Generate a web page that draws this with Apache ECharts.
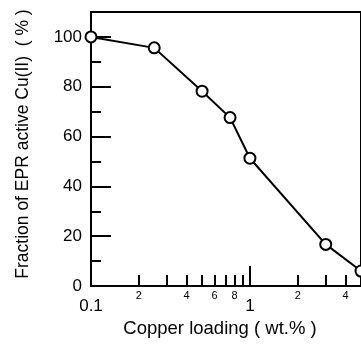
<!DOCTYPE html>
<html>
<head>
<meta charset="utf-8">
<script src="https://cdn.jsdelivr.net/npm/echarts@6/dist/echarts.min.js"></script>
<style>
  html, body { margin: 0; padding: 0; background: #fff; }
  #chart { width: 361px; height: 346px; }
</style>
</head>
<body>
<div id="chart"></div>
<script>
// copper loading (wt.%) and fraction of EPR-active Cu(II) (%)
const loading = [0.1, 0.25, 0.5, 0.75, 1, 3, 5]
const fraction = [100, 95.6, 78.2, 67.6, 51.3, 16.7, 6]

const majorTicks = [1]
const majorLabels = [0.1, 1]
const minorTicks = [0.2, 0.3, 0.4, 0.5, 0.6, 0.7, 0.8, 0.9, 2, 3, 4]
const minorLabels = [0.2, 0.4, 0.6, 0.8, 2, 4]

const font = 'Liberation Sans, Arial, Helvetica, sans-serif'
const black = '#000'

const chart = echarts.init(document.getElementById('chart'))

const leadDigit = v => String(Math.round(v / Math.pow(10, Math.floor(Math.log10(v) + 1e-9))))

const option = {
  animation: false,
  backgroundColor: '#fff',
  grid: {
    left: 91, top: 12, right: -5, bottom: 60,
    show: true, borderColor: black, borderWidth: 2
  },
  xAxis: [
    {
      type: 'log', logBase: 10, min: 0.1, max: 5,
      name: 'Copper loading ( wt.% )',
      nameLocation: 'middle', nameGap: 28,
      nameTextStyle: { color: black, fontSize: 18.5, fontFamily: font, padding: [0, 12, 0, 0] },
      axisLine: { show: true, lineStyle: { color: black, width: 2 } },
      axisTick: { show: true, inside: true, length: 20, customValues: majorTicks, lineStyle: { color: black, width: 2 } },
      axisLabel: { show: true, margin: 12, customValues: majorLabels, color: black, fontSize: 17, fontFamily: font,
        formatter: v => String(v) },
      splitLine: { show: false },
      minorTick: { show: false }
    },
    {
      type: 'log', logBase: 10, min: 0.1, max: 5, position: 'bottom',
      axisLine: { show: false },
      axisTick: { show: true, inside: true, length: 11, customValues: minorTicks, lineStyle: { color: black, width: 2 } },
      axisLabel: { show: true, margin: 4, customValues: minorLabels, color: black, fontSize: 11, fontFamily: font,
        formatter: leadDigit },
      splitLine: { show: false }
    }
  ],
  yAxis: {
    type: 'value', min: 0, max: 110, interval: 20,
    name: 'Fraction of EPR active Cu(II)  ( % )',
    nameLocation: 'middle', nameGap: 59,
    nameTextStyle: { color: black, fontSize: 17.5, fontFamily: font, padding: [0, 0, 0, 10] },
    axisLine: { show: true, lineStyle: { color: black, width: 2 } },
    axisTick: { show: true, inside: true, length: 20, lineStyle: { color: black, width: 2 } },
    minorTick: { show: true, splitNumber: 2, length: 10, lineStyle: { color: black, width: 2 } },
    axisLabel: { margin: 9, color: black, fontSize: 17, fontFamily: font,
      formatter: v => (v > 100 ? '' : String(v)) },
    splitLine: { show: false }
  },
  series: [
    {
      type: 'line',
      xAxisIndex: 0,
      data: loading.map((x, i) => [x, fraction[i]]),
      symbol: 'circle', symbolSize: 11,
      itemStyle: { color: '#fff', borderColor: black, borderWidth: 2 },
      lineStyle: { color: black, width: 2 },
      clip: false
    }
  ]
}

chart.setOption(option)
</script>
</body>
</html>
